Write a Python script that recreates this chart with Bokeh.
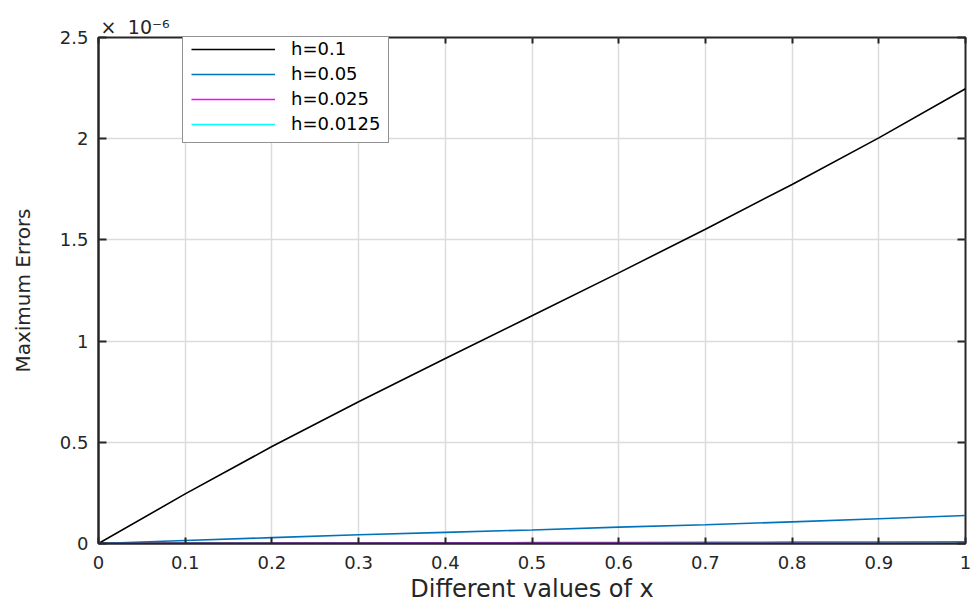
from bokeh.plotting import figure
from bokeh.models import (Legend, LegendItem, LinearAxis, FixedTicker,
                          CustomJSTickFormatter, Range1d, Title)
from bokeh.embed import file_html
from bokeh.resources import INLINE

# Sample points along x
x_values = [0.0, 0.1, 0.2, 0.3, 0.4, 0.5, 0.6, 0.7, 0.8, 0.9, 1.0]

# Maximum errors for each step size (values in units of 1e-6)
err_h_0_1 = [0.0, 0.245, 0.479, 0.700, 0.914, 1.125, 1.337, 1.553, 1.774, 2.004, 2.247]
err_h_0_05 = [0.0, 0.015, 0.029, 0.043, 0.055, 0.067, 0.081, 0.093, 0.107, 0.122, 0.138]
err_h_0_025 = [0.0, 0.0009, 0.0017, 0.0026, 0.0034, 0.0043, 0.0051, 0.0060, 0.0068, 0.0077, 0.0086]
err_h_0_0125 = [0.0, 0.00005, 0.0001, 0.00016, 0.00021, 0.00027, 0.00032, 0.00038, 0.00043, 0.00049, 0.00054]

series_labels = ["h=0.1", "h=0.05", "h=0.025", "h=0.0125"]
series_values = [err_h_0_1, err_h_0_05, err_h_0_025, err_h_0_0125]
series_colors = ["#000000", "#0072BD", "#FF00FF", "#00FFFF"]

x_ticks = [0.0, 0.1, 0.2, 0.3, 0.4, 0.5, 0.6, 0.7, 0.8, 0.9, 1.0]
y_ticks = [0.0, 0.5, 1.0, 1.5, 2.0, 2.5]

FONT = "DejaVu Sans"
INK = "#262626"
GRID = "#dcdcdc"

p = figure(width=972, height=608,
           x_range=Range1d(0, 1), y_range=Range1d(0, 2.5),
           output_backend="svg", toolbar_location=None,
           min_border_left=98, min_border_right=7,
           min_border_top=37, min_border_bottom=65)

p.background_fill_color = "white"
p.border_fill_color = "white"
p.outline_line_color = INK
p.outline_line_width = 2

plain = CustomJSTickFormatter(code="return tick.toString()")

# Bottom axis
xa = p.xaxis[0]
xa.ticker = FixedTicker(ticks=x_ticks)
xa.formatter = plain
xa.axis_label = "Different values of x"
xa.axis_label_text_font = FONT
xa.axis_label_text_font_size = "24px"
xa.axis_label_text_font_style = "normal"
xa.axis_label_text_color = INK
xa.axis_label_standoff = 3
xa.major_label_text_font = FONT
xa.major_label_text_font_size = "18px"
xa.major_label_text_color = INK
xa.major_label_standoff = 12
xa.axis_line_color = INK
xa.axis_line_width = 2
xa.major_tick_in = 6
xa.major_tick_out = 0
xa.major_tick_line_color = INK
xa.major_tick_line_width = 2
xa.minor_tick_line_color = None

# Left axis
ya = p.yaxis[0]
ya.ticker = FixedTicker(ticks=y_ticks)
ya.formatter = plain
ya.axis_label = "Maximum Errors"
ya.axis_label_text_font = FONT
ya.axis_label_text_font_size = "20px"
ya.axis_label_text_font_style = "normal"
ya.axis_label_text_color = INK
ya.axis_label_standoff = 22
ya.major_label_text_font = FONT
ya.major_label_text_font_size = "18px"
ya.major_label_text_color = INK
ya.major_label_standoff = 10
ya.axis_line_color = INK
ya.axis_line_width = 2
ya.major_tick_in = 8
ya.major_tick_out = 0
ya.major_tick_line_color = INK
ya.major_tick_line_width = 2
ya.minor_tick_line_color = None

# Tick marks on the top and right edges of the box
for ticks, side, tick_len in ((x_ticks, "above", 6), (y_ticks, "right", 8)):
    ax = LinearAxis(ticker=FixedTicker(ticks=ticks),
                    formatter=CustomJSTickFormatter(code="return ''"),
                    major_label_text_font_size="0px", major_label_standoff=0,
                    axis_line_color=None, major_tick_in=tick_len, major_tick_out=0,
                    major_tick_line_color=INK, major_tick_line_width=2,
                    minor_tick_line_color=None)
    p.add_layout(ax, side)

# Exponent note above the y axis
p.add_layout(Title(text="×\u200a\u200210⁻⁶", align="left", offset=2, standoff=0,
                   text_font=FONT, text_font_size="19px",
                   text_font_style="normal", text_color=INK), "above")

p.xgrid.ticker = FixedTicker(ticks=x_ticks)
p.ygrid.ticker = FixedTicker(ticks=y_ticks)
for g in (p.xgrid[0], p.ygrid[0]):
    g.grid_line_color = GRID
    g.grid_line_width = 1.5

items = []
for label, vals, color in zip(series_labels, series_values, series_colors):
    r = p.line(x_values, vals, line_color=color, line_width=1.6)
    items.append(LegendItem(label=label, renderers=[r]))

legend = Legend(items=items, location=(84, 400),
                label_text_font=FONT, label_text_font_size="18px",
                label_text_color="#000000",
                glyph_width=84, glyph_height=20, label_height=20,
                label_standoff=16, spacing=4, padding=8, margin=0,
                border_line_color=INK, border_line_width=1.5,
                background_fill_color="white", background_fill_alpha=1.0)
p.add_layout(legend, "center")

open("out.html", "w").write(file_html(p, INLINE))
